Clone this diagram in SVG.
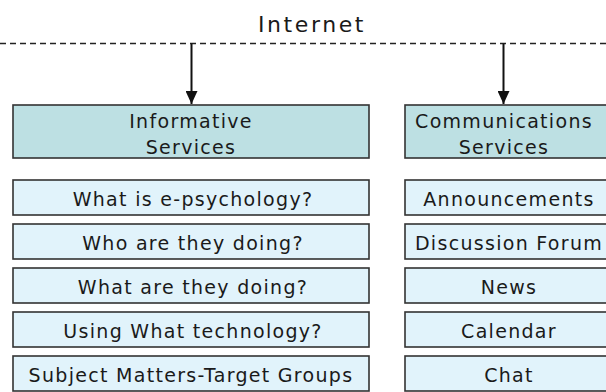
<svg xmlns="http://www.w3.org/2000/svg" width="606" height="392" viewBox="0 0 606 392">
  <defs>
    <style>
      text { font-family: "DejaVu Sans", Verdana, sans-serif; fill: #1a1a1a; text-anchor: middle; }
      .t { font-size: 19px; letter-spacing: 1.3px; }
      .big { font-size: 22px; letter-spacing: 2.6px; }
      .hdr { fill: #bde0e3; stroke: #333; stroke-width: 1.6; }
      .item { fill: #e1f3fb; stroke: #333; stroke-width: 1.6; }
      .dash { stroke: #222; stroke-width: 1.5; stroke-dasharray: 6 4; fill: none; }
      .arrow { stroke: #111; stroke-width: 2; fill: none; }
    </style>
    <marker id="ah" viewBox="0 0 13 12" refX="13" refY="6" markerWidth="13" markerHeight="12" markerUnits="userSpaceOnUse" orient="auto">
      <path d="M0,0 L13,6 L0,12 Z" fill="#111"/>
    </marker>
  </defs>

  <g id="internet">
    <text class="big" x="312" y="32">Internet</text>
    <line class="dash" x1="0" y1="43.5" x2="606" y2="43.5"/>
  </g>

  <g id="connectors">
    <line class="arrow" x1="191.5" y1="43.5" x2="191.5" y2="104" marker-end="url(#ah)"/>
    <line class="arrow" x1="503.5" y1="43.5" x2="503.5" y2="104" marker-end="url(#ah)"/>
  </g>

  <g id="informative-services">
    <rect class="hdr" x="13" y="105" width="356" height="53"/>
    <text class="t" x="191" y="128">Informative</text>
    <text class="t" x="191" y="154">Services</text>
  </g>
  <g id="communications-services">
    <rect class="hdr" x="405" y="105" width="206" height="53"/>
    <text class="t" x="504" y="128">Communications</text>
    <text class="t" x="504" y="154">Services</text>
  </g>

  <g id="what-is">
    <rect class="item" x="13" y="180" width="356" height="35"/>
    <text class="t" x="193" y="206">What is e-psychology?</text>
  </g>
  <g id="who-are">
    <rect class="item" x="13" y="224" width="356" height="35"/>
    <text class="t" x="193" y="250">Who are they doing?</text>
  </g>
  <g id="what-are">
    <rect class="item" x="13" y="268" width="356" height="35"/>
    <text class="t" x="193" y="294">What are they doing?</text>
  </g>
  <g id="using-what">
    <rect class="item" x="13" y="312" width="356" height="35"/>
    <text class="t" x="193" y="338">Using What technology?</text>
  </g>
  <g id="subject-matters">
    <rect class="item" x="13" y="356" width="356" height="35"/>
    <text class="t" x="191" y="382">Subject Matters-Target Groups</text>
  </g>

  <g id="announcements">
    <rect class="item" x="405" y="180" width="206" height="35"/>
    <text class="t" x="509" y="206">Announcements</text>
  </g>
  <g id="discussion-forum">
    <rect class="item" x="405" y="224" width="206" height="35"/>
    <text class="t" x="509" y="250">Discussion Forum</text>
  </g>
  <g id="news">
    <rect class="item" x="405" y="268" width="206" height="35"/>
    <text class="t" x="509" y="294">News</text>
  </g>
  <g id="calendar">
    <rect class="item" x="405" y="312" width="206" height="35"/>
    <text class="t" x="509" y="338">Calendar</text>
  </g>
  <g id="chat">
    <rect class="item" x="405" y="356" width="206" height="35"/>
    <text class="t" x="509" y="382">Chat</text>
  </g>
</svg>
